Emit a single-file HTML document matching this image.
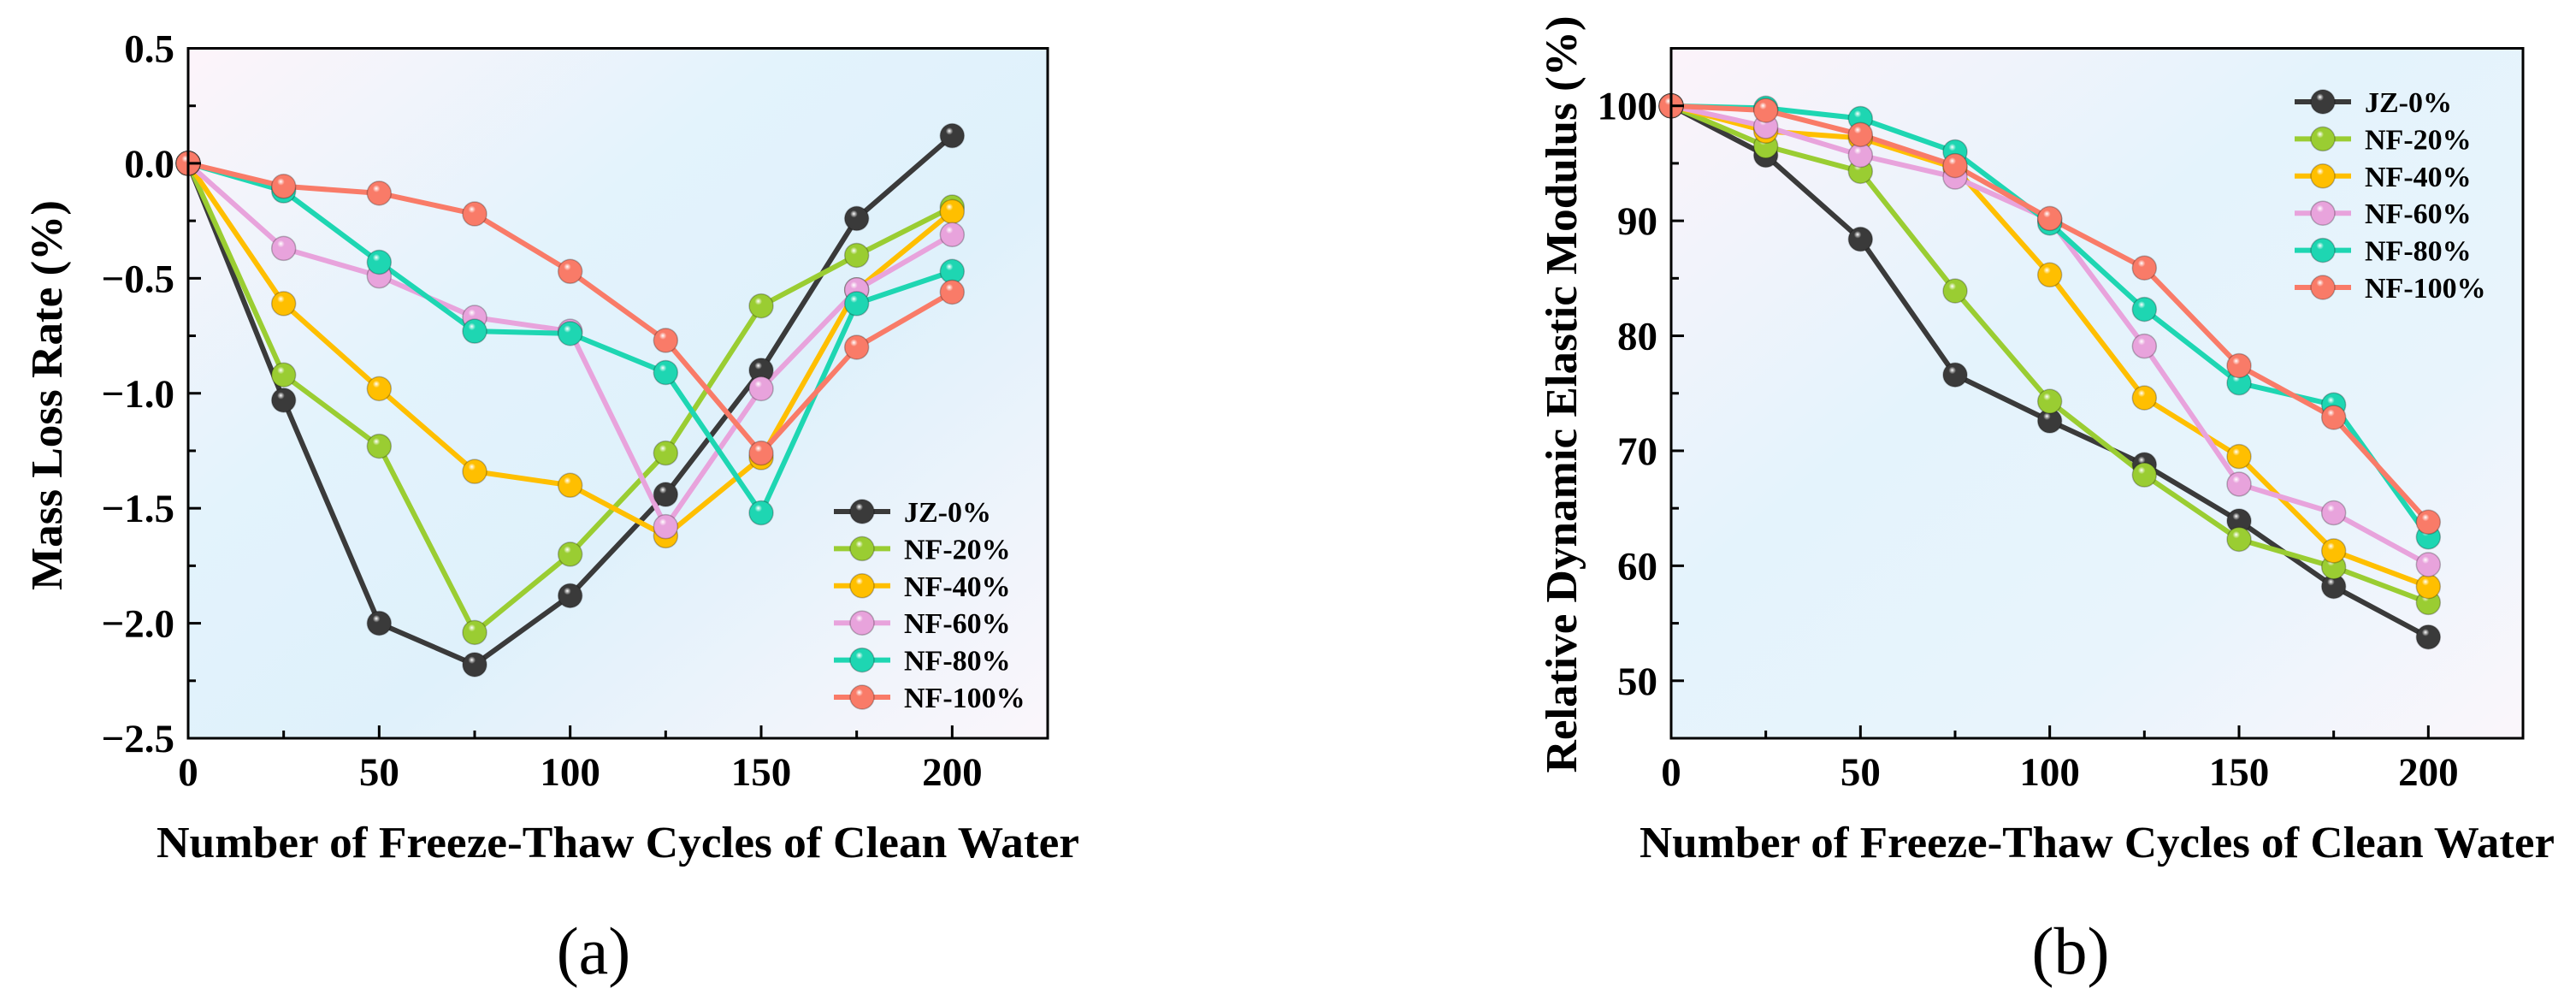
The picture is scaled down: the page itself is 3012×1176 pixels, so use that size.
<!DOCTYPE html>
<html><head><meta charset="utf-8"><style>
html,body{margin:0;padding:0;background:#fff;}
svg{display:block;font-family:"Liberation Serif",serif;}
</style></head><body>
<svg id="fig" width="3012" height="1176" viewBox="0 0 3012 1176" xmlns="http://www.w3.org/2000/svg">
<defs>
<linearGradient id="bgA" x1="0" y1="0" x2="1" y2="1">
<stop offset="0" stop-color="#fdf4fa"/><stop offset="0.35" stop-color="#e3f3fc"/><stop offset="0.6" stop-color="#dff1fb"/><stop offset="1" stop-color="#fbf6fb"/></linearGradient>
<linearGradient id="bgB" x1="0" y1="0" x2="1" y2="1">
<stop offset="0" stop-color="#fcf3fa"/><stop offset="0.4" stop-color="#e4f3fc"/><stop offset="0.7" stop-color="#e8f4fc"/><stop offset="1" stop-color="#fbf6fb"/></linearGradient>
</defs>
</svg>
<script>
const xCats=[0,25,50,75,100,125,150,175,200];
const seriesNames=['JZ-0%','NF-20%','NF-40%','NF-60%','NF-80%','NF-100%'];
const colors=['#3a3a3a','#9acd32','#ffbf00','#e8a3dc','#1ed6b2','#f97b68'];
const massJZ=[0,-1.03,-2.00,-2.18,-1.88,-1.44,-0.90,-0.24,0.12];
const mass20=[0,-0.92,-1.23,-2.04,-1.70,-1.26,-0.62,-0.40,-0.19];
const mass40=[0,-0.61,-0.98,-1.34,-1.40,-1.62,-1.28,-0.55,-0.21];
const mass60=[0,-0.37,-0.49,-0.67,-0.73,-1.58,-0.98,-0.55,-0.31];
const mass80=[0,-0.12,-0.43,-0.73,-0.74,-0.91,-1.52,-0.61,-0.47];
const mass100=[0,-0.10,-0.13,-0.22,-0.47,-0.77,-1.26,-0.80,-0.56];
const modJZ=[100,95.7,88.4,76.6,72.6,68.8,63.9,58.2,53.8];
const mod20=[100,96.5,94.3,83.9,74.3,67.9,62.3,59.9,56.8];
const mod40=[100,97.8,97.2,94.6,85.3,74.6,69.5,61.3,58.2];
const mod60=[100,98.2,95.7,93.8,90.1,79.1,67.1,64.6,60.1];
const mod80=[100,99.8,98.9,96.0,89.8,82.3,75.9,74.0,62.5];
const mod100=[100,99.6,97.5,94.8,90.2,85.9,77.4,72.9,63.8];
const xTicks=[0,50,100,150,200];
const yTicksA=['0.5','0.0','\u22120.5','\u22121.0','\u22121.5','\u22122.0','\u22122.5'];
const yTickValsA=[0.5,0,-0.5,-1,-1.5,-2,-2.5];
const yTickValsB=[50,60,70,80,90,100];

const NS='http://www.w3.org/2000/svg';
const svg=document.getElementById('fig');
const defs=svg.querySelector('defs');
function mk(tag,attrs,parent){const e=document.createElementNS(NS,tag);for(const k in attrs)e.setAttribute(k,attrs[k]);(parent||svg).appendChild(e);return e;}
colors.forEach((c,i)=>{
  const g=mk('radialGradient',{id:'ball'+i,cx:'0.4',cy:'0.35',r:'0.7',fx:'0.38',fy:'0.3'},defs);
  mk('stop',{offset:'0','stop-color':'#ffffff'},g);
  mk('stop',{offset:'0.22','stop-color':c},g);
  mk('stop',{offset:'1','stop-color':c},g);
});

function chart(cfg){
  const {L,R,T,B,xmin,xmax,ymin,ymax,data,bg,key}=cfg;
  const X=v=>L+(v-xmin)/(xmax-xmin)*(R-L);
  const Y=v=>B-(v-ymin)/(ymax-ymin)*(B-T);
  const g=mk('g',{});
  
  
  const bgr=mk('rect',{x:L,y:T,width:R-L,height:B-T,fill:'url(#'+bg+')'},g);
  
  
  data.forEach((vals,si)=>{
    const pts=vals.map((v,i)=>X(xCats[i])+','+Y(v)).join(' ');
    const pl=mk('polyline',{points:pts,fill:'none',stroke:colors[si],'stroke-width':6,'stroke-linejoin':'round'},g);
    
    
  });
  data.forEach((vals,si)=>{
    vals.forEach((v,i)=>{
      const c=mk('circle',{cx:X(xCats[i]),cy:Y(v),r:14,fill:'url(#ball'+si+')',stroke:'rgba(0,0,0,0.25)','stroke-width':1.5},g);
      
      
    });
  });
  const fr=mk('rect',{x:L,y:T,width:R-L,height:B-T,fill:'none',stroke:'#000','stroke-width':3},g);
  
  
  for(let v=0;v<=xmax;v+=25){
    const len=(v%50===0)?15:9;
    mk('line',{x1:X(v),x2:X(v),y1:B,y2:B-len,stroke:'#000','stroke-width':3},g);
  }
  xTicks.forEach(v=>{
    const t=mk('text',{x:X(v),y:918,'text-anchor':'middle','font-size':47,'font-weight':'bold'},g);
    t.textContent=v;
    
    
  });
  cfg.yMinor.forEach(v=>{mk('line',{x1:L,x2:L+9,y1:Y(v),y2:Y(v),stroke:'#000','stroke-width':3},g);});
  cfg.yMajor.forEach((v,i)=>{
    mk('line',{x1:L,x2:L+15,y1:Y(v),y2:Y(v),stroke:'#000','stroke-width':3},g);
    const t=mk('text',{x:L-16,y:Y(v)+16,'text-anchor':'end','font-size':47,'font-weight':'bold'},g);
    t.textContent=cfg.yLabels[i];
    
    
  });
  const xt=mk('text',{x:cfg.xtX,y:1002,'font-size':52,'font-weight':'bold',textLength:cfg.xtW,lengthAdjust:'spacingAndGlyphs'},g);
  xt.textContent='Number of Freeze-Thaw Cycles of Clean Water';
  
  
  const yt=mk('text',{x:0,y:0,'font-size':52,'font-weight':'bold','text-anchor':'middle',textLength:cfg.ytW,lengthAdjust:'spacingAndGlyphs',transform:'translate('+(cfg.ytX+18)+','+cfg.ytY+') rotate(-90)'},g);
  yt.textContent=cfg.ytitle;
  
  
  const lg=mk('g',{},g);
  
  
  seriesNames.forEach((n,i)=>{
    const y=cfg.legY+i*cfg.legDy;
    const e=mk('g',{},lg);
    
    
    mk('line',{x1:cfg.legX,x2:cfg.legX+66,y1:y,y2:y,stroke:colors[i],'stroke-width':6},e);
    mk('circle',{cx:cfg.legX+33,cy:y,r:14,fill:'url(#ball'+i+')',stroke:'rgba(0,0,0,0.25)','stroke-width':1.5},e);
    const t=mk('text',{x:cfg.legX+82,y:y+12,'font-size':34,'font-weight':'bold'},e);
    t.textContent=n;
  });
  const cap=mk('text',{x:cfg.capX,y:1138,'text-anchor':'middle','font-size':78},g);
  cap.textContent=cfg.cap;
  
  
}
const minorA=[];for(let v=-2.25;v<0.5;v+=0.5)minorA.push(v);
chart({key:'mass-loss',L:220,R:1225,T:56.5,B:863,xmin:0,xmax:225,ymin:-2.5,ymax:0.5,bg:'bgA',
  data:[massJZ,mass20,mass40,mass60,mass80,mass100],yMajor:yTickValsA,yLabels:yTicksA,yMinor:minorA,
  xtX:183,xtW:1079,ytX:54,ytY:462,ytW:456,ytitle:'Mass Loss Rate (%)',legX:975,legY:598,legDy:43.4,capX:694,cap:'(a)'});
const minorB=[];for(let v=45;v<105;v+=10)minorB.push(v);
chart({key:'dynamic-modulus',L:1954,R:2950,T:56.5,B:863,xmin:0,xmax:225,ymin:45,ymax:105,bg:'bgB',
  data:[modJZ,mod20,mod40,mod60,mod80,mod100],yMajor:yTickValsB,yLabels:yTickValsB.map(String),yMinor:minorB,
  xtX:1917,xtW:1070,ytX:1825,ytY:461,ytW:885,ytitle:'Relative Dynamic Elastic Modulus (%)',legX:2683,legY:119,legDy:43.4,capX:2421,cap:'(b)'});
</script>
</body></html>
